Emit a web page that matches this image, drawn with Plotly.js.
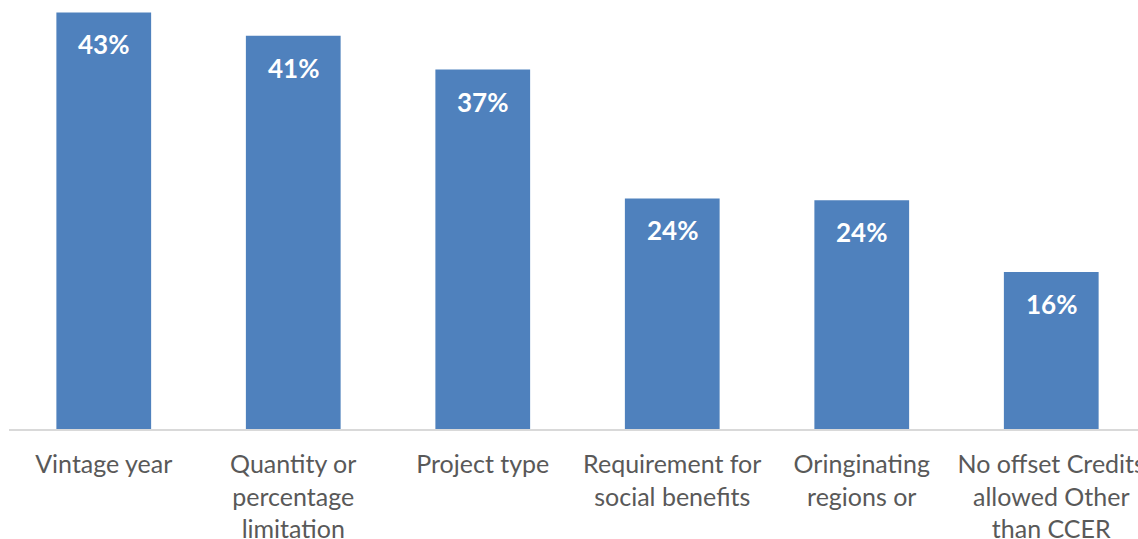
<!DOCTYPE html>
<html>
<head>
<meta charset="utf-8">
<script src="https://cdn.plot.ly/plotly-3.0.1.min.js"></script>
<style>
html, body { margin: 0; padding: 0; overflow: hidden; background: #fff; }
#chart { width: 1146px; height: 539px; }
</style>
</head>
<body>
<div id="chart"></div>
<script>
const categories = [
  "Vintage year",
  "Quantity or<br>percentage<br>limitation",
  "Project type",
  "Requirement for<br>social benefits",
  "Oringinating<br>regions or",
  "No offset Credits<br>allowed Other<br>than CCER"
];
const values = [43.0, 40.6, 37.1, 23.8, 23.6, 16.2];
const valueLabels = ["43%", "41%", "37%", "24%", "24%", "16%"];

const trace = {
  type: "bar",
  x: categories,
  y: values,
  marker: { color: "#4f81bd", line: { width: 0 } },
  hoverinfo: "none"
};

const annotations = categories.map((c, i) => ({
  x: c,
  y: values[i],
  xref: "x",
  yref: "y",
  text: "<b>" + valueLabels[i] + "</b>",
  showarrow: false,
  yanchor: "middle",
  yshift: -32,
  font: { family: "Lato, 'Open Sans', sans-serif", size: 26, color: "#ffffff" }
}));

const layout = {
  width: 1146,
  height: 539,
  margin: { l: 8.6, r: 0, t: 0, b: 109.5 },
  paper_bgcolor: "#ffffff",
  plot_bgcolor: "#ffffff",
  bargap: 0.5,
  showlegend: false,
  xaxis: {
    type: "category",
    showline: true,
    linecolor: "#d9d9d9",
    linewidth: 2,
    ticks: "outside",
    ticklen: 12,
    tickcolor: "rgba(0,0,0,0)",
    showgrid: false,
    zeroline: false,
    tickangle: 0,
    tickfont: { family: "Lato, 'Open Sans', sans-serif", size: 25, color: "#595959" },
    fixedrange: true
  },
  yaxis: {
    range: [0, 44.28],
    visible: false,
    showgrid: false,
    zeroline: false,
    fixedrange: true
  },
  annotations: annotations
};

Plotly.newPlot("chart", [trace], layout, { displayModeBar: false, staticPlot: true });
</script>
</body>
</html>
